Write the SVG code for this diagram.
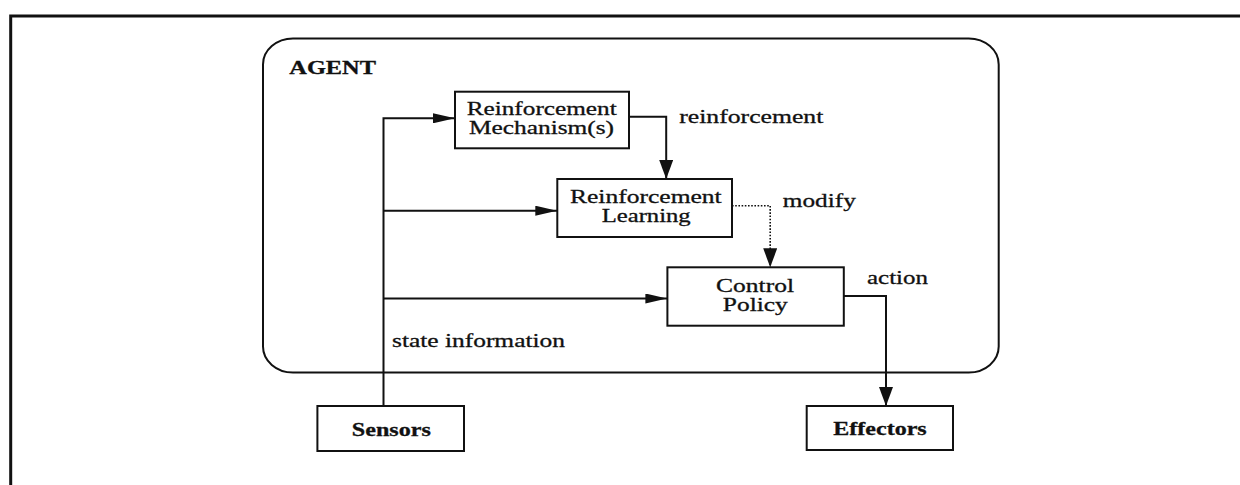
<svg xmlns="http://www.w3.org/2000/svg" width="1240" height="485" viewBox="0 0 1240 485">
  <style>
    .box { fill: #fff; stroke: #111; stroke-width: 2; }
    .wire { fill: none; stroke: #111; stroke-width: 2; }
    .dot { fill: none; stroke: #111; stroke-width: 1.6; stroke-dasharray: 1.6 1.6; }
    .t { font-family: "Liberation Serif", "Times New Roman", serif; font-size: 19px; fill: #111; stroke: #111; stroke-width: 0.3; }
    .b { font-weight: bold; }
  </style>
  <defs>
    <marker id="ah" markerUnits="userSpaceOnUse" markerWidth="22" markerHeight="10" refX="22" refY="5" orient="auto">
      <path d="M0,0 L22,5 L0,10 z" fill="#111"/>
    </marker>
    <marker id="av" markerUnits="userSpaceOnUse" markerWidth="19" markerHeight="14" refX="19" refY="7" orient="auto">
      <path d="M0,0 L19,7 L0,14 z" fill="#111"/>
    </marker>
  </defs>

  <rect width="1240" height="485" fill="#fff"/>

  <!-- outer frame (top and left edges) -->
  <path d="M10.7,485 V16 H1240" fill="none" stroke="#111" stroke-width="3"/>

  <!-- agent boundary -->
  <g id="agent">
    <rect class="box" x="263" y="38.5" width="735.7" height="334" rx="30" ry="26"/>
    <text class="t b" x="289.3" y="74" font-size="21" textLength="86.7" lengthAdjust="spacingAndGlyphs">AGENT</text>
  </g>

  <g id="connectors">
    <path class="wire" d="M383.5,406 V118.3 H455" marker-end="url(#ah)"/>
    <path class="wire" d="M383.5,210.7 H557.3" marker-end="url(#ah)"/>
    <path class="wire" d="M383.5,298.5 H667.4" marker-end="url(#ah)"/>
    <path class="wire" d="M629,116.7 H666.2 V179" marker-end="url(#av)"/>
    <path class="dot" d="M732,205.7 H770.2 V267.3" marker-end="url(#av)"/>
    <path class="wire" d="M843.8,296 H886 V406" marker-end="url(#av)"/>
    <text class="t" x="679.3" y="122.7" textLength="144" lengthAdjust="spacingAndGlyphs">reinforcement</text>
    <text class="t" x="782.8" y="207" textLength="73" lengthAdjust="spacingAndGlyphs">modify</text>
    <text class="t" x="867" y="284" textLength="61" lengthAdjust="spacingAndGlyphs">action</text>
    <text class="t" x="392" y="347.3" textLength="173" lengthAdjust="spacingAndGlyphs">state information</text>
  </g>

  <g id="reinforcement-mechanism">
    <rect class="box" x="455" y="91.7" width="174" height="56.6"/>
    <text class="t" x="466.7" y="115" textLength="150" lengthAdjust="spacingAndGlyphs">Reinforcement</text>
    <text class="t" x="469" y="134.3" textLength="145" lengthAdjust="spacingAndGlyphs">Mechanism(s)</text>
  </g>

  <g id="reinforcement-learning">
    <rect class="box" x="557.3" y="179" width="174.7" height="58"/>
    <text class="t" x="570" y="202.8" textLength="151.7" lengthAdjust="spacingAndGlyphs">Reinforcement</text>
    <text class="t" x="601.7" y="222.2" textLength="89" lengthAdjust="spacingAndGlyphs">Learning</text>
  </g>

  <g id="control-policy">
    <rect class="box" x="667.4" y="267.3" width="176.4" height="58.4"/>
    <text class="t" x="716" y="291.8" textLength="78" lengthAdjust="spacingAndGlyphs">Control</text>
    <text class="t" x="722.8" y="311.2" textLength="65" lengthAdjust="spacingAndGlyphs">Policy</text>
  </g>

  <g id="sensors">
    <rect class="box" x="317.4" y="406" width="146.6" height="45"/>
    <text class="t b" x="351.8" y="436" textLength="79" lengthAdjust="spacingAndGlyphs">Sensors</text>
  </g>

  <g id="effectors">
    <rect class="box" x="806.7" y="406" width="146.3" height="44"/>
    <text class="t b" x="833.3" y="435" textLength="93.4" lengthAdjust="spacingAndGlyphs">Effectors</text>
  </g>
</svg>
